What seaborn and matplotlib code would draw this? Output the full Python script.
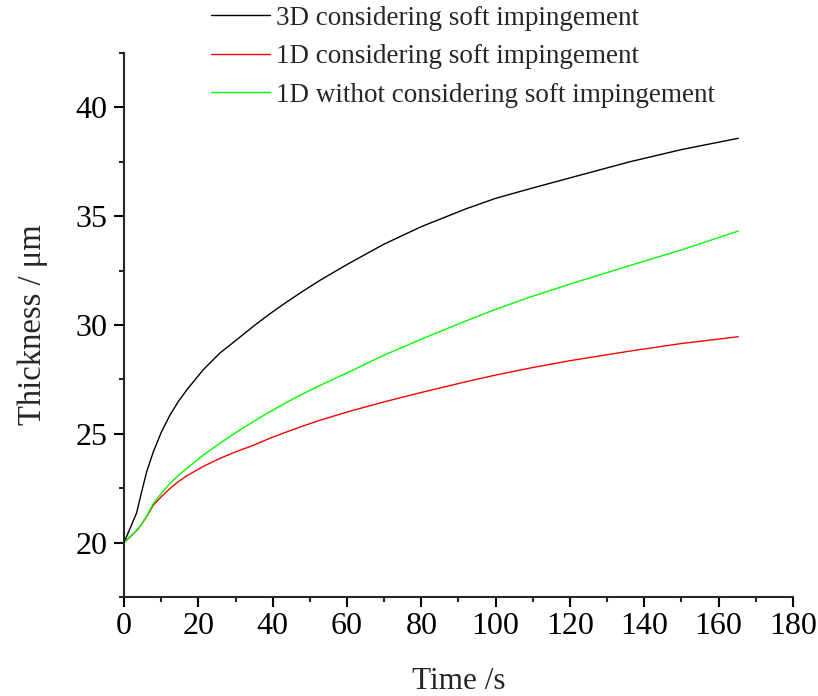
import matplotlib
matplotlib.use("Agg")
import matplotlib.pyplot as plt
from matplotlib.ticker import MultipleLocator
import pandas as pd
import seaborn as sns

# Time samples (s)
time_s = [0, 3.4, 4.75, 6.1, 7.9, 10.1, 12.4, 14.6, 16.9, 21.3, 25.8, 30.3,
          34.8, 39.3, 43.8, 48.2, 52.7, 60, 69.8, 80, 92.2, 100, 109.2, 120,
          136.1, 150, 165.3]

# Layer thickness (um) for each model
thick_3d_soft = [20.0, 21.37, 22.34, 23.26, 24.18, 25.1, 25.87, 26.48, 27.02,
                 27.94, 28.71, 29.32, 29.94, 30.52, 31.06, 31.56, 32.05, 32.78,
                 33.7, 34.52, 35.35, 35.82, 36.26, 36.76, 37.5, 38.06, 38.58]
thick_1d_soft = [20.0, 20.55, 20.85, 21.2, 21.72, 22.12, 22.49, 22.8, 23.07,
                 23.5, 23.87, 24.19, 24.47, 24.8, 25.09, 25.36, 25.62, 26.0,
                 26.46, 26.9, 27.4, 27.7, 28.02, 28.36, 28.8, 29.15, 29.46]
thick_1d_nosoft = [20.0, 20.55, 20.85, 21.22, 21.8, 22.28, 22.72, 23.08, 23.41,
                   24.02, 24.56, 25.08, 25.56, 26.02, 26.45, 26.84, 27.22, 27.8,
                   28.6, 29.35, 30.2, 30.72, 31.28, 31.88, 32.73, 33.45, 34.32]

labels = ["3D considering soft impingement",
          "1D considering soft impingement",
          "1D withot considering soft impingement"]
colors = ["#000000", "#ff0000", "#00ff00"]

df = pd.concat([
    pd.DataFrame({"Time": time_s, "Thickness": thick_3d_soft, "Model": labels[0]}),
    pd.DataFrame({"Time": time_s, "Thickness": thick_1d_soft, "Model": labels[1]}),
    pd.DataFrame({"Time": time_s, "Thickness": thick_1d_nosoft, "Model": labels[2]}),
], ignore_index=True)

sns.set_style("ticks")
plt.rcParams["font.family"] = ["Liberation Serif", "DejaVu Serif"]

fig = plt.figure(figsize=(8.18, 6.96), dpi=100)
ax = fig.add_axes([0.1516, 0.1422, 0.8178, 0.7817])

sns.lineplot(data=df, x="Time", y="Thickness", hue="Model",
             palette=dict(zip(labels, colors)), hue_order=labels,
             linewidth=1.0, ax=ax, legend=False, estimator=None, sort=False)

ax.set_xlim(0, 180)
ax.set_ylim(17.5, 42.5)
ax.xaxis.set_major_locator(MultipleLocator(20))
ax.xaxis.set_minor_locator(MultipleLocator(10))
ax.yaxis.set_major_locator(MultipleLocator(5))
ax.yaxis.set_minor_locator(MultipleLocator(2.5))

for side in ["top", "right"]:
    ax.spines[side].set_visible(False)
for side in ["left", "bottom"]:
    ax.spines[side].set_linewidth(1.5)

ax.tick_params(axis="both", which="major", direction="out", length=7.5,
               width=1.5, labelsize=23, colors="black")
ax.tick_params(axis="x", which="major", pad=3)
ax.tick_params(axis="y", which="major", pad=4.3)
ax.tick_params(axis="both", which="minor", direction="out", length=3.6,
               width=1.5)

ax.set_xlabel("Time /s", fontsize=22.5, labelpad=19)
ax.set_ylabel("Thickness / μm", fontsize=23.5, labelpad=20)

handles = [plt.Line2D([], [], color=c, lw=1.0) for c in colors]
fig.legend(handles, labels, loc="upper left", bbox_to_anchor=(0.255, 0.9957),
           frameon=False, fontsize=19.5, handlelength=2.15, handletextpad=0.25,
           labelspacing=0.5, borderpad=0.1, borderaxespad=0)

fig.savefig("out.png", dpi=100)
